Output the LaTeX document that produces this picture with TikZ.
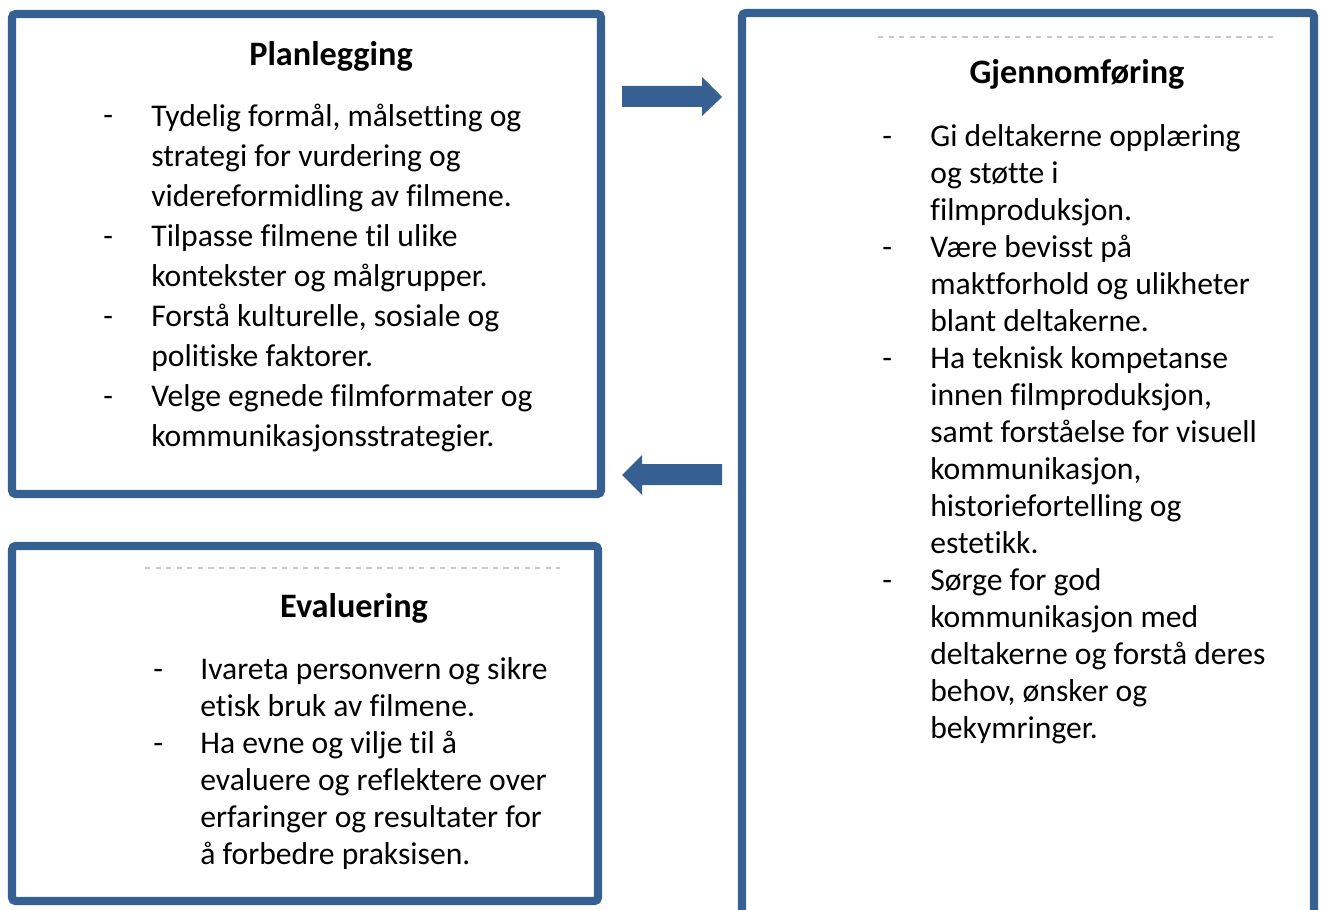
\documentclass[tikz,border=0pt]{standalone}
\usepackage{fontspec}
\setmainfont{Carlito}[Ligatures=NoCommon]
\usetikzlibrary{shadows}

\definecolor{boxblue}{RGB}{54,96,146}
\definecolor{rulegray}{RGB}{200,200,200}

\tikzset{
  frame/.style={draw=boxblue, fill=white, line width=4.6pt, rounded corners=2pt,
    drop shadow={opacity=0.25, shadow xshift=1.2pt, shadow yshift=-1.2pt}},
  blockarrow/.style={fill=boxblue, draw=none},
  topline/.style={draw=rulegray, dashed, line width=0.6pt},
  boxtitle/.style={font=\bfseries\fontsize{19.5}{23}\selectfont, anchor=base, inner sep=0pt},
  % placed at the baseline of the last line
  itemtext/.style={font=\fontsize{18}{#1}\selectfont, align=left, anchor=base west, inner sep=0pt},
  itemdash/.style={font=\fontsize{18}{21}\selectfont, anchor=base west, inner sep=0pt}
}

\begin{document}
\begin{tikzpicture}[x=0.02cm,y=-0.02cm]
\useasboundingbox (0,0) rectangle (1321,909);
\clip (0,0) rectangle (1321,909);

% boxes
\draw[frame] (12,14) rectangle (601,494);
\draw[frame] (742,13) rectangle (1314,980);
\draw[frame] (12,546) rectangle (598,901);

% arrows between the boxes
\fill[blockarrow] (622,86) -- (702,86) -- (702,77) -- (722,97) -- (702,116)
  -- (702,107) -- (622,107) -- cycle;
\fill[blockarrow] (722,464) -- (642,464) -- (642,455) -- (622,475) -- (642,495)
  -- (642,485) -- (722,485) -- cycle;

% Planlegging
\node[boxtitle] (plantitle) at (331,66) {Planlegging};
\node[itemdash] (pd1) at (103,126) {-};
\node[itemtext=22.7pt] (p1) at (151,206) {Tydelig formål, målsetting og\\strategi for vurdering og\\videreformidling av filmene.};
\node[itemdash] (pd2) at (103,246) {-};
\node[itemtext=22.7pt] (p2) at (151,286) {Tilpasse filmene til ulike\\kontekster og målgrupper.};
\node[itemdash] (pd3) at (103,326) {-};
\node[itemtext=22.7pt] (p3) at (151,366) {Forstå kulturelle, sosiale og\\politiske faktorer.};
\node[itemdash] (pd4) at (103,406) {-};
\node[itemtext=22.7pt] (p4) at (151,446) {Velge egnede filmformater og\\kommunikasjonsstrategier.};

% Gjennomføring
\draw[topline] (878,37) -- (1275,37);
\node[boxtitle] (gjentitle) at (1077,84) {Gjennomføring};
\node[itemdash] (gd1) at (882,146) {-};
\node[itemtext=21pt] (g1) at (930,220) {Gi deltakerne opplæring\\og støtte i\\filmproduksjon.};
\node[itemdash] (gd2) at (882,257) {-};
\node[itemtext=21pt] (g2) at (930,331) {Være bevisst på\\maktforhold og ulikheter\\blant deltakerne.};
\node[itemdash] (gd3) at (882,368) {-};
\node[itemtext=21pt] (g3) at (930,553) {Ha teknisk kompetanse\\innen filmproduksjon,\\samt forståelse for visuell\\kommunikasjon,\\historiefortelling og\\estetikk.};
\node[itemdash] (gd4) at (882,590) {-};
\node[itemtext=21pt] (g4) at (930,738) {Sørge for god\\kommunikasjon med\\deltakerne og forstå deres\\behov, ønsker og\\bekymringer.};

% Evaluering
\draw[topline] (145,568) -- (560,568);
\node[boxtitle] (evaltitle) at (354,617) {Evaluering};
\node[itemdash] (ed1) at (153,679) {-};
\node[itemtext=21pt] (e1) at (200,716) {Ivareta personvern og sikre\\etisk bruk av filmene.};
\node[itemdash] (ed2) at (153,753) {-};
\node[itemtext=21pt] (e2) at (200,864) {Ha evne og vilje til å\\evaluere og reflektere over\\erfaringer og resultater for\\å forbedre praksisen.};
\end{tikzpicture}
\end{document}
